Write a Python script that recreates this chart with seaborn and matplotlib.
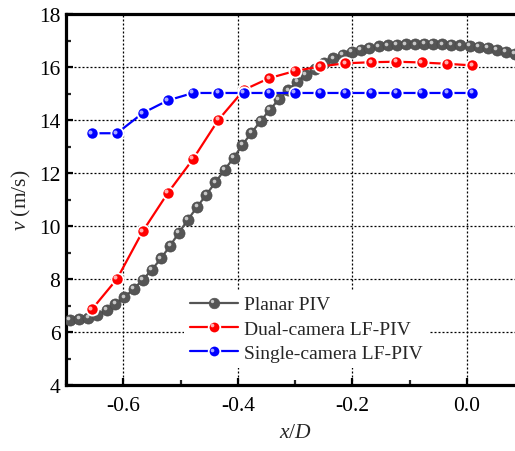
import numpy as np
import pandas as pd
import matplotlib
matplotlib.use('Agg')
import matplotlib.pyplot as plt
import matplotlib.transforms as mtransforms
from matplotlib.ticker import FixedLocator, MultipleLocator
from matplotlib.legend_handler import HandlerTuple, HandlerLine2D
import seaborn as sns

# ---------------- data ----------------
planar_x = [-0.693, -0.677, -0.661, -0.645, -0.629, -0.614, -0.598, -0.582, -0.566, -0.550,
            -0.534, -0.518, -0.503, -0.487, -0.471, -0.455, -0.439, -0.423, -0.407, -0.392,
            -0.376, -0.360, -0.344, -0.328, -0.312, -0.296, -0.281, -0.265, -0.249, -0.233,
            -0.217, -0.201, -0.185, -0.170, -0.154, -0.138, -0.122, -0.106, -0.090, -0.074,
            -0.059, -0.043, -0.027, -0.011, 0.005, 0.021, 0.037, 0.052, 0.068, 0.084]
planar_v = [6.45, 6.49, 6.53, 6.64, 6.83, 7.06, 7.31, 7.62, 7.97, 8.35,
            8.78, 9.26, 9.74, 10.24, 10.72, 11.18, 11.65, 12.12, 12.58, 13.06,
            13.52, 13.96, 14.39, 14.78, 15.12, 15.45, 15.70, 15.92, 16.15, 16.33,
            16.47, 16.58, 16.65, 16.72, 16.78, 16.82, 16.84, 16.86, 16.86, 16.87,
            16.87, 16.86, 16.84, 16.82, 16.80, 16.77, 16.72, 16.65, 16.58, 16.49]

lf_x = [-0.655, -0.611, -0.566, -0.522, -0.478, -0.434, -0.389, -0.345,
        -0.300, -0.256, -0.212, -0.167, -0.123, -0.079, -0.034, 0.010]
dual_v = [6.85, 8.00, 9.80, 11.25, 12.53, 14.00, 15.14, 15.58,
          15.85, 16.02, 16.14, 16.18, 16.20, 16.17, 16.12, 16.06]
single_v = [13.50, 13.50, 14.26, 14.74, 15.02, 15.02, 15.02, 15.02,
            15.02, 15.02, 15.02, 15.02, 15.02, 15.02, 15.02, 15.02]

series_labels = ["Planar PIV", "Dual-camera LF-PIV", "Single-camera LF-PIV"]
x_ticks = [-0.6, -0.4, -0.2, 0.0]
x_tick_labels = ["-0.6", "-0.4", "-0.2", "0.0"]
y_ticks = [4, 6, 8, 10, 12, 14, 16, 18]

# ---------------- style ----------------
sns.set_style('white')
plt.rcParams['font.family'] = ['Liberation Serif', 'DejaVu Serif']
plt.rcParams['mathtext.fontset'] = 'custom'
plt.rcParams['mathtext.it'] = 'Liberation Serif:italic'
plt.rcParams['mathtext.rm'] = 'Liberation Serif'

fig = plt.figure(figsize=(5.15, 4.52), dpi=100)
ax = fig.add_axes([66 / 515, 1 - 386 / 452, 458 / 515, 371 / 452])

df_p = pd.DataFrame({'x': planar_x, 'v': planar_v})
df_l = pd.DataFrame({'x': lf_x, 'dual': dual_v, 'single': single_v})

specs = [
    (df_p, 'v', series_labels[0], '#555555', '#c8c8c8', 8.0, '#4a4a4a', 0.5),
    (df_l, 'dual', series_labels[1], '#ff0000', '#ffb0b0', 8.8, 'white', 1.3),
    (df_l, 'single', series_labels[2], '#0000ff', '#a8a8ff', 8.8, 'white', 1.3),
]


class ShiftedHandler(HandlerLine2D):
    def create_artists(self, legend, orig_handle, xdescent, ydescent, width, height,
                       fontsize, trans):
        arts = super().create_artists(legend, orig_handle, xdescent, ydescent, width,
                                      height, fontsize, trans)
        for a in arts:
            xd, yd = a.get_data()
            a.set_data([v - 1.3 for v in xd], [v + 1.3 for v in yd])
        return arts


hl_trans = mtransforms.offset_copy(ax.transData, fig=fig, x=-1.6, y=1.6, units='dots')
handles = []
hmap = {}
for i, (df, col, lab, c, hc, ms, mec, mew) in enumerate(specs):
    sns.lineplot(data=df, x='x', y=col, ax=ax, color=c, lw=1.6, marker='o',
                 markersize=ms, markeredgecolor=mec, markeredgewidth=mew,
                 markerfacecolor=c, sort=False, label=lab, zorder=3 + i,
                 legend=False)
    ax.plot(df['x'], df[col], linestyle='none', marker='o', markersize=ms * 0.33,
            markerfacecolor=hc, markeredgewidth=0, transform=hl_trans,
            zorder=3.5 + i)
    lh = matplotlib.lines.Line2D([], [], color=c, lw=1.6, marker='o', markersize=ms * 0.95,
                                 markerfacecolor=c, markeredgecolor=mec if i else c,
                                 markeredgewidth=mew)
    lhl = matplotlib.lines.Line2D([], [], linestyle='none', marker='o',
                                  markersize=ms * 0.3, markerfacecolor=hc, markeredgewidth=0)
    hmap[lhl] = ShiftedHandler()
    handles.append((lh, lhl))

ax.set_xlim(-0.7, 0.1)
ax.set_ylim(4, 18)
ax.xaxis.set_major_locator(FixedLocator(x_ticks))
ax.set_xticklabels(x_tick_labels)
ax.xaxis.set_minor_locator(MultipleLocator(0.1))
ax.yaxis.set_major_locator(FixedLocator(y_ticks))
ax.yaxis.set_minor_locator(MultipleLocator(1))

ax.grid(True, which='major', color='black', linestyle=(0, (1.6, 1.6)), linewidth=0.9)
ax.set_axisbelow(True)

for s in ['left', 'bottom', 'top', 'right']:
    ax.spines[s].set_linewidth(2.3)
    ax.spines[s].set_color('black')

ax.tick_params(axis='both', which='major', direction='in', length=5, width=1.6,
               labelsize=15.5, colors='black', bottom=True, left=True, top=False, right=False)
ax.tick_params(axis='both', which='minor', direction='in', length=3.5, width=1.6,
               bottom=True, left=True, top=False, right=False)
ax.tick_params(axis='x', which='major', pad=8)
ax.tick_params(axis='y', which='major', pad=4)

ax.set_xlabel(r'$x$/$D$', fontsize=15.5, labelpad=6)
ax.set_ylabel(r'$v$ (m/s)', fontsize=15.5, labelpad=4)

hmap[tuple] = HandlerTuple(ndivide=1, pad=0)
leg = ax.legend(handles, series_labels, handler_map=hmap,
                loc='center left', bbox_to_anchor=(184 / 515, 1 - 330 / 452),
                bbox_transform=fig.transFigure, fontsize=14, frameon=True,
                framealpha=1, edgecolor='none', facecolor='white', borderpad=0.3,
                borderaxespad=0, handlelength=2.5, handletextpad=0.3, labelspacing=0.35)
leg.get_frame().set_linewidth(0)
leg.set_zorder(10)

fig.savefig('out.png', dpi=100)
